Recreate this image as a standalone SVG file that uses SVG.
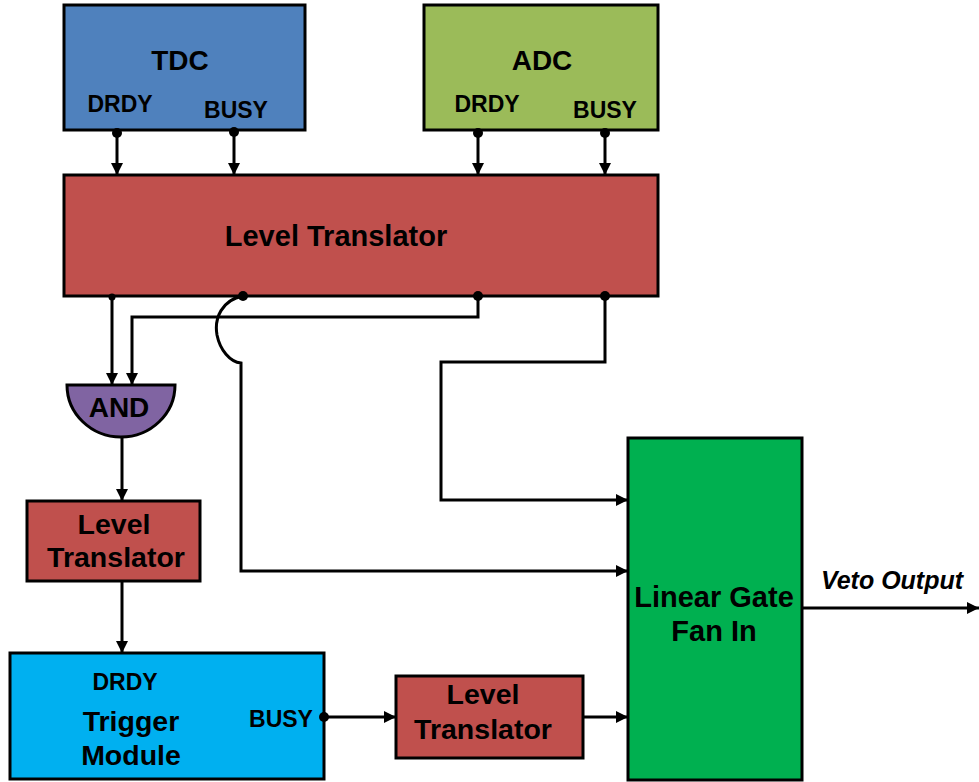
<svg xmlns="http://www.w3.org/2000/svg" width="979" height="782" viewBox="0 0 979 782">
<style>
.box{stroke:#000;stroke-width:3}
.t{font-family:"Liberation Sans","DejaVu Sans",sans-serif;font-weight:bold;fill:#000;text-anchor:middle}
.w{fill:none;stroke:#000;stroke-width:3}
.dot{fill:#000}
</style>
<defs>
<marker id="ah" viewBox="0 0 10 10" refX="10" refY="5" markerWidth="4" markerHeight="4" orient="auto" markerUnits="strokeWidth">
<path d="M0,0L10,5L0,10z" fill="#000"/>
</marker>
</defs>
<rect width="979" height="782" fill="#fff"/>
<g id="tdc">
<rect class="box" x="64" y="5" width="241" height="125" fill="#4f81bd"/>
<text class="t" x="180" y="70" font-size="28">TDC</text>
<text class="t" x="120" y="112" font-size="23">DRDY</text>
<text class="t" x="236" y="118" font-size="23">BUSY</text>
</g>
<g id="adc">
<rect class="box" x="424" y="5" width="234" height="125" fill="#9bbb59"/>
<text class="t" x="542" y="70" font-size="28">ADC</text>
<text class="t" x="487" y="112" font-size="23">DRDY</text>
<text class="t" x="605" y="118" font-size="23">BUSY</text>
</g>
<g id="level-translator-main">
<rect class="box" x="64" y="175" width="594" height="121" fill="#c0504d"/>
<text class="t" x="336" y="246" font-size="29">Level Translator</text>
</g>
<g id="and-gate">
<path class="box" d="M67,385 L175,385 A54,52 0 0 1 67,385 Z" fill="#8064a2"/>
<text class="t" x="119" y="417" font-size="28">AND</text>
</g>
<g id="level-translator-2">
<rect class="box" x="27" y="501" width="173" height="80" fill="#c0504d"/>
<text class="t" x="114" y="534" font-size="28.5">Level</text>
<text class="t" x="116" y="567" font-size="28.5">Translator</text>
</g>
<g id="trigger-module">
<rect class="box" x="10" y="653" width="314" height="126" fill="#00b0f0"/>
<text class="t" x="125" y="690" font-size="23">DRDY</text>
<text class="t" x="131" y="731" font-size="28.5">Trigger</text>
<text class="t" x="131" y="765" font-size="28.5">Module</text>
<text class="t" x="281" y="727" font-size="23">BUSY</text>
</g>
<g id="level-translator-3">
<rect class="box" x="396" y="676" width="187" height="82" fill="#c0504d"/>
<text class="t" x="483" y="704" font-size="28.5">Level</text>
<text class="t" x="483" y="739" font-size="28.5">Translator</text>
</g>
<g id="linear-gate">
<rect class="box" x="628" y="438" width="174" height="342" fill="#00b050"/>
<text class="t" x="714" y="607" font-size="29">Linear Gate</text>
<text class="t" x="714" y="641" font-size="29">Fan In</text>
</g>
<text class="t" x="892" y="589" font-size="25" font-style="italic">Veto Output</text>
<g id="connectors">
<path class="w" d="M117,133 V175" marker-end="url(#ah)"/>
<path class="w" d="M234,133 V175" marker-end="url(#ah)"/>
<path class="w" d="M478,133 V175" marker-end="url(#ah)"/>
<path class="w" d="M605,133 V175" marker-end="url(#ah)"/>
<circle class="dot" cx="117" cy="133" r="5"/>
<circle class="dot" cx="234" cy="132" r="5"/>
<circle class="dot" cx="478" cy="133" r="5"/>
<circle class="dot" cx="605" cy="133" r="5"/>
<path class="w" d="M112,296 V385" marker-end="url(#ah)"/>
<path class="w" d="M478,296 V317 H132 V385" marker-end="url(#ah)"/>
<path class="w" d="M243,296 C222,300 214,318 217,335 C220,350 230,362 241,363 V571 H628" marker-end="url(#ah)"/>
<path class="w" d="M605,296 V362 H441 V500 H628" marker-end="url(#ah)"/>
<circle class="dot" cx="112" cy="297" r="3.5"/>
<circle class="dot" cx="243" cy="296" r="5"/>
<circle class="dot" cx="478" cy="296" r="5"/>
<circle class="dot" cx="605" cy="296" r="5"/>
<path class="w" d="M122,438 V501" marker-end="url(#ah)"/>
<path class="w" d="M122,581 V653" marker-end="url(#ah)"/>
<path class="w" d="M324,717 H396" marker-end="url(#ah)"/>
<circle class="dot" cx="324" cy="717" r="5"/>
<path class="w" d="M583,717 H628" marker-end="url(#ah)"/>
<path class="w" d="M802,608 H979" marker-end="url(#ah)"/>
</g>
</svg>
